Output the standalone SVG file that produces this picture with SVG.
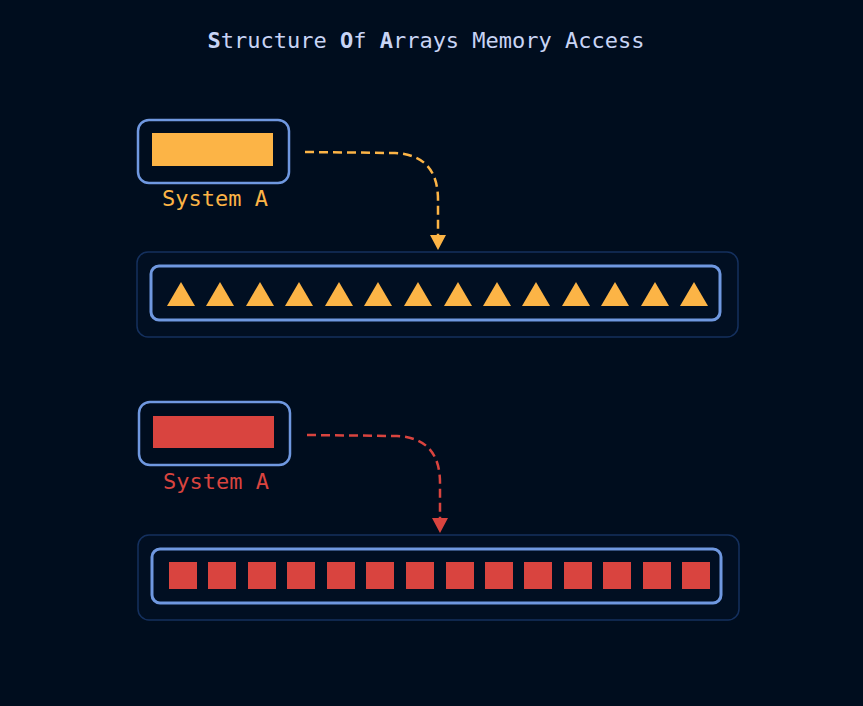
<svg xmlns="http://www.w3.org/2000/svg" width="863" height="706" viewBox="0 0 863 706">
<style>
text{font-family:"DejaVu Sans Mono","Liberation Mono",monospace;font-size:22px;text-anchor:middle}
.sys{fill:none;stroke:#6f98e0;stroke-width:2.5}
.outer{fill:#010f22;stroke:#14305e;stroke-width:1.5}
.inner{fill:none;stroke:#6f98e0;stroke-width:3}
.o{fill:#fcb446}.r{fill:#d9443f}
.con{fill:none;stroke-width:2.5;stroke-dasharray:9,5}
</style>
<defs>
<marker id="ao" markerWidth="16" markerHeight="16" refX="8" refY="14" orient="auto-start-reverse" markerUnits="userSpaceOnUse" viewBox="0 0 16 16"><path d="M0 0 L16 0 L8 14 Z" transform="rotate(-90 8 8)" class="o"/></marker>
</defs>
<rect width="863" height="706" fill="#000d1e"/>
<text x="426" y="48" fill="#c8d4f5"><tspan font-weight="bold">S</tspan>tructure <tspan font-weight="bold">O</tspan>f <tspan font-weight="bold">A</tspan>rrays Memory Access</text>
<g id="connectors">
<path class="con" stroke="#fcb446" d="M305 152 L395 153 Q438 155 438 200 L438 236"/>
<path class="o" d="M430 235 L446 235 L438 250 Z"/>
<path class="con" stroke="#d9443f" d="M307 435 L397 436 Q440 438 440 483 L440 519"/>
<path class="r" d="M432 518 L448 518 L440 533 Z"/>
</g>
<g id="systemA1">
<rect class="sys" x="138" y="120" width="151" height="63" rx="11"/>
<rect class="o" x="152" y="133" width="121" height="33"/>
<text x="215" y="206" fill="#fcb446">System A</text>
</g>
<g id="array1">
<rect class="outer" x="137" y="252" width="601" height="85" rx="11"/>
<rect class="inner" x="151" y="266" width="569" height="54" rx="8"/>
<g class="o">
<path d="M167 306 l14 -24 l14 24 Z"/><path d="M206 306 l14 -24 l14 24 Z"/><path d="M246 306 l14 -24 l14 24 Z"/><path d="M285 306 l14 -24 l14 24 Z"/><path d="M325 306 l14 -24 l14 24 Z"/><path d="M364 306 l14 -24 l14 24 Z"/><path d="M404 306 l14 -24 l14 24 Z"/><path d="M444 306 l14 -24 l14 24 Z"/><path d="M483 306 l14 -24 l14 24 Z"/><path d="M522 306 l14 -24 l14 24 Z"/><path d="M562 306 l14 -24 l14 24 Z"/><path d="M601 306 l14 -24 l14 24 Z"/><path d="M641 306 l14 -24 l14 24 Z"/><path d="M680 306 l14 -24 l14 24 Z"/>
</g>
</g>
<g id="systemA2">
<rect class="sys" x="139" y="402" width="151" height="63" rx="11"/>
<rect class="r" x="153" y="416" width="121" height="32"/>
<text x="216" y="489" fill="#d9443f">System A</text>
</g>
<g id="array2">
<rect class="outer" x="138" y="535" width="601" height="85" rx="11"/>
<rect class="inner" x="152" y="549" width="569" height="54" rx="8"/>
<g class="r">
<rect x="169" y="562" width="28" height="27"/><rect x="208" y="562" width="28" height="27"/><rect x="248" y="562" width="28" height="27"/><rect x="287" y="562" width="28" height="27"/><rect x="327" y="562" width="28" height="27"/><rect x="366" y="562" width="28" height="27"/><rect x="406" y="562" width="28" height="27"/><rect x="446" y="562" width="28" height="27"/><rect x="485" y="562" width="28" height="27"/><rect x="524" y="562" width="28" height="27"/><rect x="564" y="562" width="28" height="27"/><rect x="603" y="562" width="28" height="27"/><rect x="643" y="562" width="28" height="27"/><rect x="682" y="562" width="28" height="27"/>
</g>
</g>
</svg>
